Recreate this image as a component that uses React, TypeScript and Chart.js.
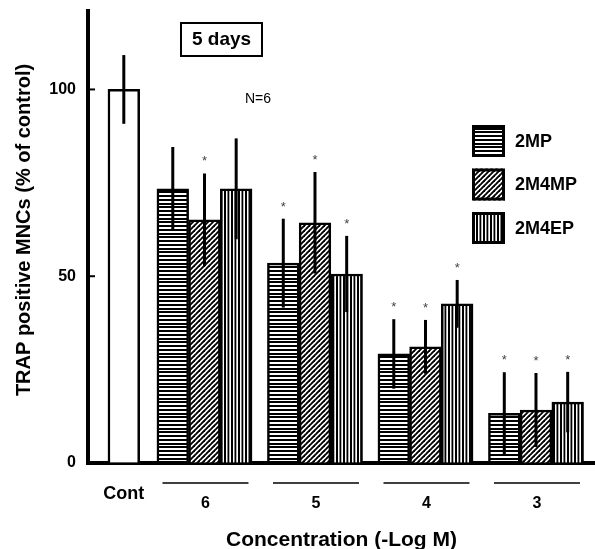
import React, { useEffect, useRef } from 'react';
import { Chart, registerables } from 'chart.js';

Chart.register(...registerables);

// ---------- data ----------
const categories = ['Cont', '6', '5', '4', '3'];
const seriesNames = ['2MP', '2M4MP', '2M4EP'];
const controlValue = [100];
const controlSD = [9.2];
const mp2Values = [73.4, 53.5, 29.2, 13.3];
const mp2SD = [11.2, 11.9, 9.3, 11.0];
const m4mp2Values = [65.1, 64.3, 31.1, 14.2];
const m4mp2SD = [12.4, 13.6, 7.2, 9.9];
const m4ep2Values = [73.4, 50.6, 42.6, 16.3];
const m4ep2SD = [13.5, 10.2, 6.4, 8.1];
const mp2Sig = [false, true, true, true];
const m4mp2Sig = [true, true, true, true];
const m4ep2Sig = [false, true, true, true];
const yTicks = [0, 50, 100];
const yMax = 121;
const boxTitle = '5 days';
const nText = 'N=6';
const xTitle = 'Concentration (-Log M)';
const yTitle = 'TRAP positive MNCs (% of control)';

// ---------- layout (positions of the category slots on the index axis) ----------
const slotPos = [0.27, 1, 2, 3, 4];
const xMin = -0.054;
const xMax = 4.534;
const FONT = "'Liberation Sans', Arial, sans-serif";

function makePattern(kind: string): CanvasPattern | string {
  const c = document.createElement('canvas');
  const ctx = c.getContext('2d');
  if (!ctx) return '#fff';
  if (kind === 'h') {
    c.width = 4; c.height = 15;
    ctx.fillStyle = '#fff'; ctx.fillRect(0, 0, 4, 15);
    ctx.fillStyle = '#000';
    [0, 4, 8, 11].forEach(y => ctx.fillRect(0, y, 4, 2));
  } else if (kind === 'v') {
    c.width = 7; c.height = 4;
    ctx.fillStyle = '#fff'; ctx.fillRect(0, 0, 7, 4);
    ctx.fillStyle = '#000';
    ctx.fillRect(0, 0, 2, 4);
    ctx.fillRect(3.5, 0, 1.8, 4);
  } else {
    c.width = 5; c.height = 5;
    ctx.fillStyle = '#fff'; ctx.fillRect(0, 0, 5, 5);
    ctx.strokeStyle = '#000';
    ctx.lineWidth = 1.9;
    for (const cc of [0, 5, 10]) {
      ctx.beginPath();
      ctx.moveTo(cc + 1, -1);
      ctx.lineTo(cc - 6, 6);
      ctx.stroke();
    }
  }
  return ctx.createPattern(c, 'repeat') || '#fff';
}

const errorBarPlugin = {
  id: 'errorBars',
  afterDatasetsDraw(chart: any) {
    const ctx = chart.ctx;
    const yScale = chart.scales.y;
    ctx.save();
    chart.data.datasets.forEach((ds: any, i: number) => {
      const meta = chart.getDatasetMeta(i);
      meta.data.forEach((el: any, j: number) => {
        const v = ds.data[j].y;
        const e = ds.errors[j];
        const top = yScale.getPixelForValue(v + e);
        const bot = yScale.getPixelForValue(v - e);
        ctx.strokeStyle = '#000';
        ctx.lineWidth = 3;
        ctx.beginPath();
        ctx.moveTo(el.x, top);
        ctx.lineTo(el.x, bot);
        ctx.stroke();
        if (ds.sig && ds.sig[j]) {
          ctx.fillStyle = '#444';
          ctx.font = `13px ${FONT}`;
          ctx.textAlign = 'center';
          ctx.textBaseline = 'alphabetic';
          ctx.fillText('*', el.x, top - 8);
        }
      });
    });
    ctx.restore();
  },
};

const annotationPlugin = {
  id: 'annotations',
  afterDraw(chart: any) {
    const ctx = chart.ctx;
    const yScale = chart.scales.y;
    const xScale = chart.scales.x;
    const left = chart.chartArea.left;
    ctx.save();
    // inward y tick marks
    ctx.strokeStyle = '#000';
    ctx.lineWidth = 2;
    yTicks.forEach(t => {
      if (t === 0) return;
      const y = yScale.getPixelForValue(t);
      ctx.beginPath();
      ctx.moveTo(left, y);
      ctx.lineTo(left + 7, y);
      ctx.stroke();
    });
    // y-axis title
    ctx.save();
    ctx.translate(24, 230);
    ctx.rotate(-Math.PI / 2);
    ctx.fillStyle = '#000';
    ctx.font = `bold 20px ${FONT}`;
    ctx.textAlign = 'center';
    ctx.textBaseline = 'middle';
    ctx.fillText(yTitle, 0, 0);
    ctx.restore();
    // category labels
    ctx.fillStyle = '#000';
    ctx.textAlign = 'center';
    ctx.textBaseline = 'middle';
    categories.forEach((cat, i) => {
      const x = xScale.getPixelForValue(slotPos[i]);
      if (i === 0) {
        ctx.font = `bold 18px ${FONT}`;
        ctx.fillText(cat, x, 494);
      } else {
        ctx.lineWidth = 1.6;
        ctx.beginPath();
        ctx.moveTo(x - 42, 483);
        ctx.lineTo(x + 44, 483);
        ctx.stroke();
        ctx.font = `bold 16px ${FONT}`;
        ctx.fillText(cat, x + 1, 504);
      }
    });
    // "5 days" box
    ctx.lineWidth = 2;
    ctx.strokeRect(181, 23, 81, 33);
    ctx.font = `bold 19px ${FONT}`;
    ctx.fillText(boxTitle, 221.5, 40);
    // N=6
    ctx.font = `14px ${FONT}`;
    ctx.fillText(nText, 258, 99);
    // legend
    const rows = [125, 168.5, 212];
    chart.data.datasets.slice(1).forEach((ds: any, k: number) => {
      const top = rows[k];
      ctx.fillStyle = ds.backgroundColor;
      ctx.fillRect(472, top, 33, 32);
      ctx.lineWidth = 3;
      ctx.strokeStyle = '#000';
      ctx.strokeRect(473.5, top + 1.5, 30, 29);
      ctx.fillStyle = '#000';
      ctx.font = `bold 18px ${FONT}`;
      ctx.textAlign = 'left';
      ctx.fillText(ds.label, 515, top + 17);
    });
    ctx.restore();
  },
};

export default function App() {
  const ref = useRef<HTMLCanvasElement | null>(null);
  useEffect(() => {
    if (!ref.current) return;
    const hPat = makePattern('h');
    const dPat = makePattern('d');
    const vPat = makePattern('v');
    const groupSlots = slotPos.slice(1);
    const mk = (vals: number[]) => vals.map((v, i) => ({ x: groupSlots[i], y: v }));
    const common = {
      borderColor: '#000',
      borderWidth: 2.5,
      barThickness: 31.7,
      skipNull: true,
    };
    const chart = new Chart(ref.current, {
      type: 'bar',
      data: {
        datasets: [
          {
            label: categories[0],
            data: controlValue.map(v => ({ x: slotPos[0], y: v })),
            backgroundColor: '#fff',
            errors: controlSD,
            sig: [false],
            ...common,
          } as any,
          { label: seriesNames[0], data: mk(mp2Values), backgroundColor: hPat, errors: mp2SD, sig: mp2Sig, ...common } as any,
          { label: seriesNames[1], data: mk(m4mp2Values), backgroundColor: dPat, errors: m4mp2SD, sig: m4mp2Sig, ...common } as any,
          { label: seriesNames[2], data: mk(m4ep2Values), backgroundColor: vPat, errors: m4ep2SD, sig: m4ep2Sig, ...common } as any,
        ],
      },
      options: {
        animation: false,
        responsive: false,
        devicePixelRatio: 1,
        layout: { padding: { left: 0, right: 0, top: 11, bottom: 0 } },
        plugins: { legend: { display: false }, tooltip: { enabled: false } },
        scales: {
          x: {
            type: 'linear',
            min: xMin,
            max: xMax,
            offset: false,
            z: 1,
            ticks: { display: false },
            grid: { display: true, drawOnChartArea: false, drawTicks: false },
            border: { display: true, width: 4, color: '#000' },
            title: {
              display: true,
              text: xTitle,
              color: '#000',
              font: { family: FONT, size: 21, weight: 'bold', lineHeight: 0.88 },
              padding: { top: 0, bottom: 0 },
            },
            afterFit: (s: any) => { s.height = 86; s.paddingLeft = 0; s.paddingRight = 0; },
          },
          y: {
            min: 0,
            max: yMax,
            z: 1,
            afterBuildTicks: (s: any) => { s.ticks = yTicks.map(v => ({ value: v })); },
            ticks: {
              color: '#000',
              padding: 12,
              font: { family: FONT, size: 16, weight: 'bold' },
            },
            grid: { display: true, drawOnChartArea: false, drawTicks: false },
            border: { display: true, width: 4, color: '#000' },
            title: { display: false },
            afterFit: (s: any) => { s.width = 88; s.paddingTop = 0; s.paddingBottom = 0; },
          },
        },
      } as any,
      plugins: [errorBarPlugin, annotationPlugin],
    });
    return () => chart.destroy();
  }, []);
  return (
    <div style={{ position: 'absolute', left: 0, top: 0, width: 595, height: 549, background: '#fff' }}>
      <canvas ref={ref} width={595} height={549} />
    </div>
  );
}
